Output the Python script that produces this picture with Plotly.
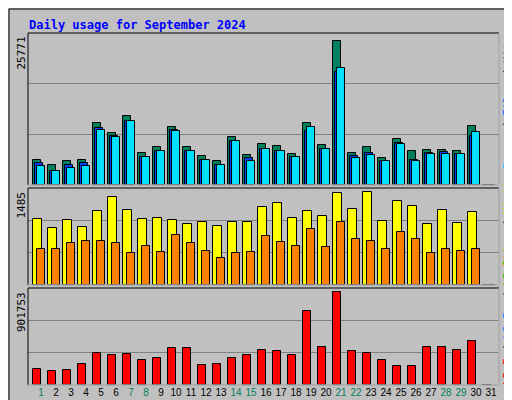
import plotly.graph_objects as go

DAYS = list(range(1, 32))
HITS = [4438, 3414, 4097, 4438, 10754, 9047, 11949, 5633, 6657, 10071, 6657, 5121, 4097, 8364, 5292, 7169,
        6828, 5462, 10754, 6998, 25093, 5633, 6657, 4780, 8023, 5974, 6145, 6145, 5974, 10242, 0]
FILES = [3755, 2390, 3414, 3755, 9900, 8535, 11096, 4950, 5974, 9559, 5974, 4438, 3414, 7681, 4780, 6316,
         5974, 4950, 9388, 6316, 19630, 5121, 5633, 4267, 7340, 4438, 5633, 5804, 5462, 8535, 0]
PAGES = [3243, 2390, 2902, 3243, 9559, 8364, 11096, 4950, 5974, 9388, 5974, 4438, 3414, 7681, 4267, 6316,
         5974, 4950, 10071, 6316, 20313, 4780, 5292, 4097, 7169, 4267, 5462, 5462, 5462, 9218, 0]
VISITS = [1049, 904, 1033, 920, 1178, 1404, 1194, 1049, 1065, 1033, 968, 1001, 936, 1001, 1001, 1243,
          1307, 1065, 1178, 1098, 1469, 1211, 1485, 1017, 1340, 1259, 968, 1194, 985, 1162, 0]
SITES = [581, 581, 678, 710, 710, 678, 516, 629, 533, 791, 678, 549, 436, 516, 533, 775,
         694, 629, 888, 613, 1001, 742, 710, 581, 839, 742, 516, 581, 549, 581, 0]
KBYTES = [151386, 131640, 141513, 200751, 309354, 289608, 299481, 240243, 259989, 358719, 358719, 190878,
          200751, 259989, 289608, 338973, 329100, 289608, 714147, 368592, 901753, 329100, 309354, 240243,
          181005, 181005, 368592, 368592, 338973, 427830, 0]
WEEKEND = [1, 7, 8, 14, 15, 21, 22, 28, 29]
MAX_LABELS = ["25771", "1485", "901753"]

W, H = 512, 400
X0, X1 = 20 / W, 491 / W
DOMS = [(1 - 177 / H, 1 - 25 / H), (1 - 277 / H, 1 - 180 / H), (1 - 377 / H, 1 - 280 / H)]
TOPS = [25771 * 151 / 147, 1485 * 288 / 276, 901753 * 286 / 274]
FONT = "DejaVu Sans Mono"

fig = go.Figure()


def bars(y, color, off, wid, axis):
    fig.add_trace(go.Bar(x=DAYS, y=y, offset=off, width=wid, marker_color=color,
                         marker_line=dict(color="black", width=1), xaxis="x", yaxis=axis,
                         showlegend=False, hoverinfo="skip"))


bars(HITS, "#00805c", -0.53, 0.53, "y")
bars(FILES, "#0040ff", -0.40, 0.53, "y")
bars(PAGES, "#00e0ff", -0.27, 0.53, "y")
bars(VISITS, "#ffff00", -0.53, 0.6, "y2")
bars(SITES, "#ff8000", -0.27, 0.53, "y2")
bars(KBYTES, "#ff0000", -0.53, 0.53, "y3")

ticktext = [f"<span style='color:#00805c'>{d}</span>" if d in WEEKEND else str(d) for d in DAYS]
fig.update_layout(
    width=W, height=H, margin=dict(l=0, r=0, t=0, b=0),
    paper_bgcolor="#c0c0c0", plot_bgcolor="#c0c0c0", barmode="overlay", bargap=0,
    font=dict(family=FONT, size=11, color="black"),
    xaxis=dict(domain=[X0, X1], range=[0.133, 31.533], anchor="y3", tickvals=DAYS, ticktext=ticktext,
               showgrid=False, zeroline=False, ticks="", tickangle=0, automargin=False,
               tickfont=dict(size=10, family="Liberation Sans")),
)
for i, key in enumerate(["yaxis", "yaxis2", "yaxis3"]):
    fig.layout[key] = dict(domain=list(DOMS[i]), range=[0, TOPS[i]], anchor="x",
                           tickvals=[TOPS[i] / 3, 2 * TOPS[i] / 3], showticklabels=False,
                           showgrid=True, gridcolor="#808080", gridwidth=1, zeroline=False, ticks="")
    fig.add_shape(type="rect", xref="paper", yref="paper", x0=X0, x1=X1, y0=DOMS[i][0], y1=DOMS[i][1],
                  line=dict(color="black", width=1))
    fig.add_shape(type="line", xref="paper", yref="paper", x0=X1, x1=X1, y0=DOMS[i][0], y1=DOMS[i][1],
                  line=dict(color="white", width=1))
    fig.add_shape(type="line", xref="paper", yref="paper", x0=X0, x1=X1, y0=DOMS[i][0], y1=DOMS[i][0],
                  line=dict(color="white", width=1))
    fig.add_annotation(xref="paper", yref="paper", x=13 / W, y=DOMS[i][1] - 2 / H, text=MAX_LABELS[i],
                       textangle=-90, showarrow=False, xanchor="center", yanchor="top",
                       font=dict(size=11, family=FONT))

# outer frame
fig.add_shape(type="rect", xref="paper", yref="paper", x0=1 / W, x1=(W - 7) / W, y0=7 / H, y1=1 - 1 / H,
              line=dict(color="black", width=1))
fig.add_shape(type="rect", xref="paper", yref="paper", x0=(W - 7) / W, x1=1, y0=0, y1=1 - 5 / H,
              fillcolor="#808080", line=dict(width=0))
fig.add_shape(type="rect", xref="paper", yref="paper", x0=5 / W, x1=1, y0=0, y1=7 / H,
              fillcolor="#808080", line=dict(width=0))

fig.add_annotation(xref="paper", yref="paper", x=19 / W, y=1 - 8 / H, xanchor="left", yanchor="top",
                   showarrow=False, text="<b>Daily usage for September 2024</b>",
                   font=dict(size=12, color="#0000ff", family=FONT))

RIGHT = [
    ("<span style='color:#00c0ff'>Pages</span> / <span style='color:#0060ff'>Files</span> / "
     "<span style='color:#00805c'>Hits</span>", 1 - 95 / H),
    ("<span style='color:#ff8000'>Sites</span> / <span style='color:#e0e000'>Visits</span>", 1 - 213 / H),
    ("<span style='color:#ff0000'>kB F</span> / <span style='color:#0080ff'>kB In</span> / "
     "<span style='color:#00c000'>kB Out</span>", 1 - 308 / H),
]
for text, yc in RIGHT:
    fig.add_annotation(xref="paper", yref="paper", x=499 / W, y=yc, xanchor="center", yanchor="middle",
                       textangle=-90, showarrow=False, text=text, font=dict(size=11, family=FONT))

fig.write_html("out.html")
